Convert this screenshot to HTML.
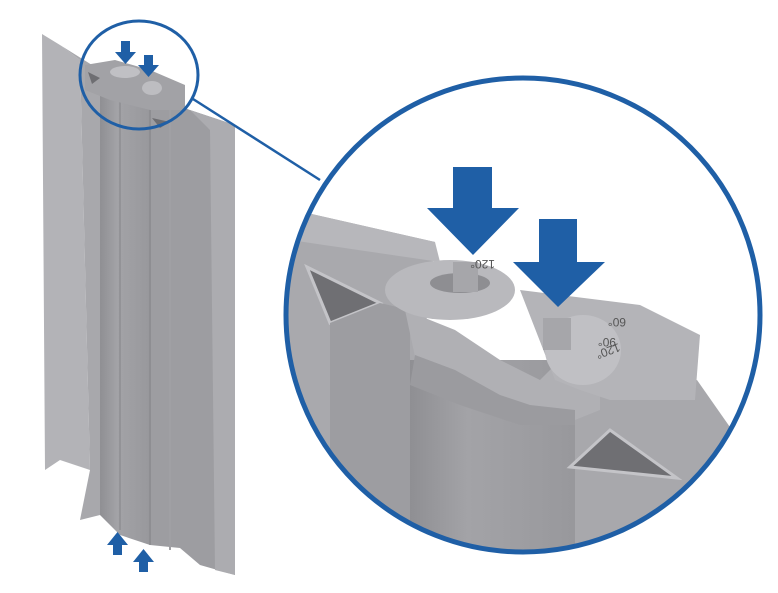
<!DOCTYPE html>
<html><head><meta charset="utf-8"><style>html,body{margin:0;padding:0;background:#fff}svg{display:block}</style></head>
<body>
<svg width="778" height="593" viewBox="0 0 778 593" xmlns="http://www.w3.org/2000/svg">
<defs>
<clipPath id="big"><circle cx="523" cy="315" r="237"/></clipPath>
<linearGradient id="col" x1="0" x2="1"><stop offset="0" stop-color="#8f8f93"/><stop offset="0.35" stop-color="#a3a3a7"/><stop offset="1" stop-color="#98989c"/></linearGradient>
</defs>
<!-- antenna left -->
<polygon points="42,34 60,45 80,60 90,470 60,460 45,470" fill="#b3b3b7"/>
<polygon points="60,45 100,70 100,515 80,520 90,470 80,60" fill="#a8a8ac"/>
<polygon points="100,70 150,95 150,545 120,535 100,515" fill="url(#col)"/>
<polygon points="150,95 190,110 235,125 235,575 200,565 180,548 150,545" fill="#9d9da1"/>
<polygon points="190,110 235,125 235,575 215,570 210,130" fill="#acacb0"/>
<line x1="120" y1="80" x2="120" y2="530" stroke="#939397" stroke-width="2"/>
<line x1="150" y1="100" x2="150" y2="545" stroke="#8a8a8e" stroke-width="1.5"/>
<line x1="170" y1="105" x2="170" y2="550" stroke="#a0a0a4" stroke-width="2"/>
<!-- top cap small -->
<polygon points="85,65 115,60 150,70 185,85 185,110 150,110 110,100 85,90" fill="#a2a2a6"/>
<ellipse cx="125" cy="72" rx="15" ry="6" fill="#c0c0c4"/>
<ellipse cx="152" cy="88" rx="10" ry="7" fill="#bdbdc1"/>
<polygon points="88,72 100,78 92,84" fill="#6e6e72"/>
<polygon points="152,118 170,122 160,128" fill="#6e6e72"/>
<!-- small arrows -->
<polygon points="121,41 130,41 130,52 136,52 125.5,64 115,52 121,52" fill="#1f5fa6"/>
<polygon points="144,55 153,55 153,65 159,65 148.5,77 138,65 144,65" fill="#1f5fa6"/>
<polygon points="113,555 122,555 122,545 128,545 117.5,532 107,545 113,545" fill="#1f5fa6"/>
<polygon points="139,572 148,572 148,562 154,562 143.5,549 133,562 139,562" fill="#1f5fa6"/>
<!-- small circle + connector -->
<ellipse cx="139" cy="75" rx="59" ry="54" fill="none" stroke="#1f5fa6" stroke-width="3"/>
<line x1="193" y1="99" x2="320" y2="180" stroke="#1f5fa6" stroke-width="2.5"/>
<!-- big circle content -->
<g clip-path="url(#big)">
<rect x="280" y="70" width="500" height="490" fill="#fff"/>
<polygon points="285,208 435,242 420,380 410,600 285,600" fill="#a9a9ad"/>
<polygon points="285,208 435,242 440,262 290,240" fill="#b7b7bb"/>
<polygon points="307,267 380,303 330,323" fill="#6f6f73" stroke="#c4c4c8" stroke-width="3"/>
<polygon points="330,323 380,303 410,310 410,600 330,600" fill="#9d9da1"/>
<polygon points="575,400 697,380 760,470 740,600 575,600" fill="#a8a8ac"/>
<rect x="410" y="360" width="165" height="240" fill="url(#col)"/>
<polygon points="405,310 455,330 500,360 540,380 560,360 600,350 600,410 575,420 520,420 460,395 420,380" fill="#b0b0b4"/>
<polygon points="415,355 455,370 500,395 530,405 575,410 575,425 520,425 460,405 410,385" fill="#9b9b9f"/>
<ellipse cx="450" cy="290" rx="65" ry="30" fill="#b9b9bd"/>
<ellipse cx="460" cy="283" rx="30" ry="10" fill="#8e8e92"/>
<rect x="453" y="262" width="25" height="30" fill="#a6a6aa"/>
<polygon points="520,290 640,305 700,335 695,400 610,400 580,390 555,380" fill="#b4b4b8"/>
<ellipse cx="583" cy="350" rx="38" ry="35" fill="#c0c0c4"/>
<rect x="543" y="318" width="28" height="32" fill="#a6a6aa"/>
<polygon points="570,467 677,478 610,430" fill="#6f6f73" stroke="#c4c4c8" stroke-width="3"/>
<text x="475" y="270" font-family="Liberation Sans, sans-serif" font-size="12" fill="#555" transform="rotate(180 485 265)">120°</text>
<text x="604" y="318" font-family="Liberation Sans, sans-serif" font-size="12" fill="#555" transform="rotate(180 615 318)">60°</text>
<text x="594" y="338" font-family="Liberation Sans, sans-serif" font-size="12" fill="#555" transform="rotate(180 605 338)">90°</text>
<text x="590" y="352" font-family="Liberation Sans, sans-serif" font-size="12" fill="#555" transform="rotate(160 605 350)">120°</text>
</g>
<circle cx="523" cy="315" r="237" fill="none" stroke="#1f5fa6" stroke-width="5"/>
<!-- big arrows -->
<polygon points="453,167 492,167 492,208 519,208 473,255 427,208 453,208" fill="#1f5fa6"/>
<polygon points="539,219 577,219 577,262 605,262 558,307 513,262 539,262" fill="#1f5fa6"/>
</svg>
</body></html>
